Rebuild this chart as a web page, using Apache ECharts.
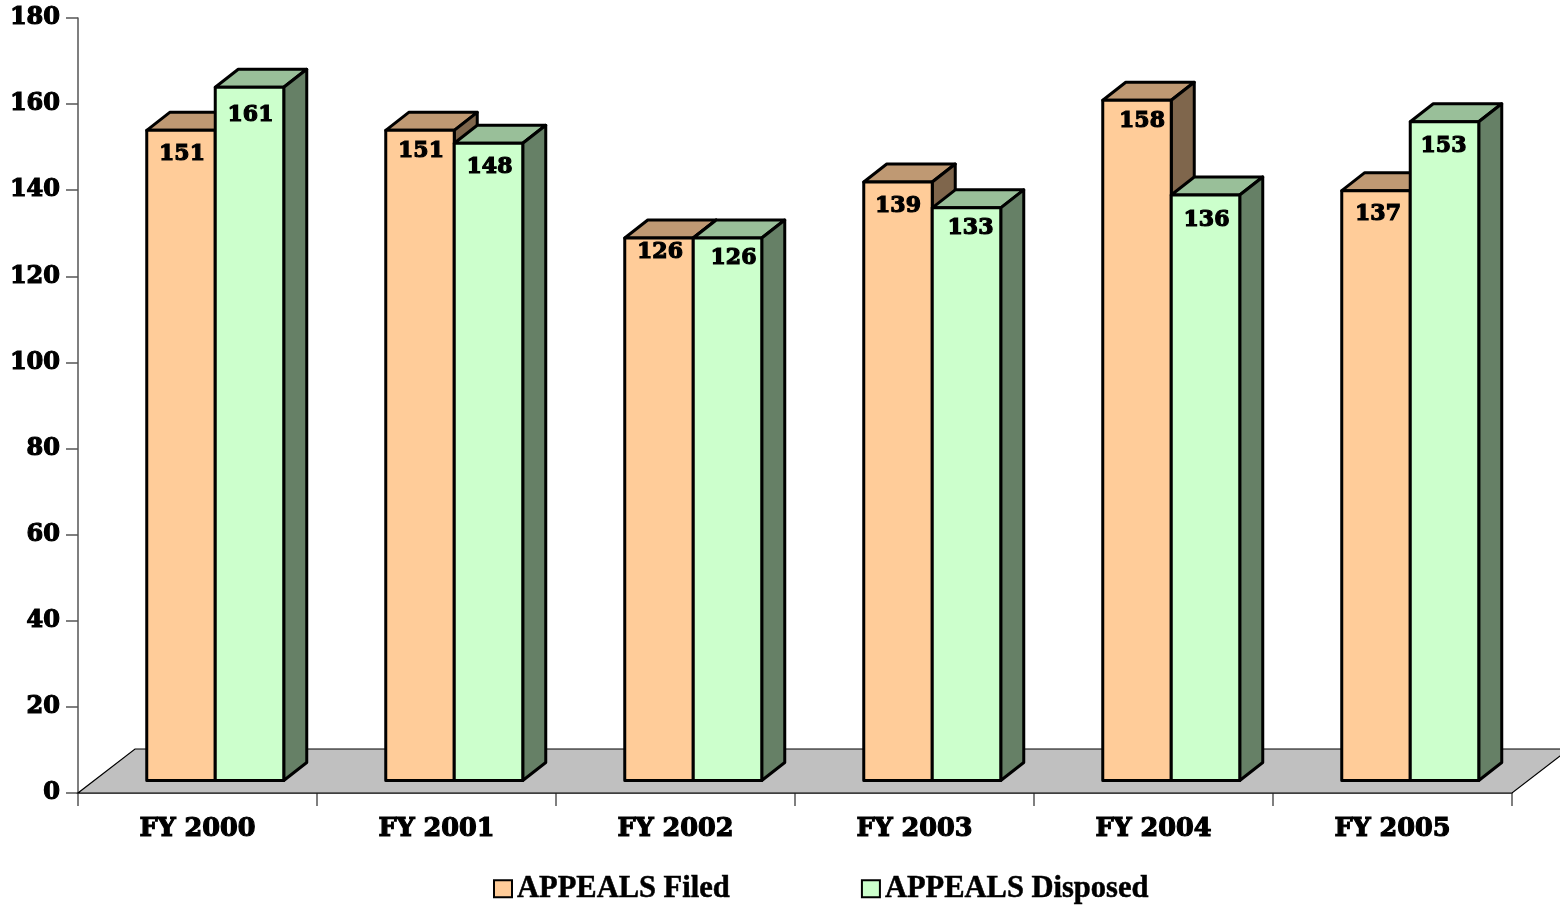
<!DOCTYPE html>
<html>
<head>
<meta charset="utf-8">
<style>html,body{margin:0;padding:0;background:#fff}#c{width:1560px;height:905px}</style>
<script src="https://cdn.jsdelivr.net/npm/echarts@6/dist/echarts.min.js"></script>
</head>
<body>
<div id="c"></div>
<script>
var categories = ['FY 2000','FY 2001','FY 2002','FY 2003','FY 2004','FY 2005'];
var filed = [151,151,126,139,158,137];
var disposed = [161,148,126,133,136,153];
var yTicks = {min:0,max:180,interval:20};

// Presentation only: hand placement of the value labels in the source chart [dx, dy]
var filedLabelNudge = [[1,24],[1,21],[1,14],[0,24],[5,21],[2,24]];
var disposedLabelNudge = [[1,28],[1,24],[6,20],[4,20],[1,25],[-1,25]];

var SERIF = '"DejaVu Serif"';
var LIFT = 12.5, DX = 23, DY = -18, BAR = 68.5, SHIFT = 17.75;

function barSeries(name, values, side, front, topCol, sideCol, nudge){
  return {
    name:name, type:'custom', coordinateSystem:'cartesian2d', z:3,
    itemStyle:{color:front,borderColor:'#000',borderWidth:2},
    encode:{x:0,y:1},
    data:categories.map(function(c,i){return [c,values[i]];}),
    renderItem:function(params,api){
      var idx=api.value(0), v=api.value(1);
      var c=api.coord([idx,v]), b=api.coord([idx,0]);
      var cx=c[0]+SHIFT;
      var x0=side<0?cx-BAR:cx, x1=x0+BAR, yt=c[1]-LIFT, yb=b[1]-LIFT;
      var st={stroke:'#000',lineWidth:3,lineJoin:'round'};
      var n=nudge[params.dataIndex];
      function poly(pts,fill){return {type:'polygon',shape:{points:pts},style:Object.assign({fill:fill},st)};}
      return {type:'group',children:[
        poly([[x0,yt],[x0+DX,yt+DY],[x1+DX,yt+DY],[x1,yt]],topCol),
        poly([[x1,yt],[x1+DX,yt+DY],[x1+DX,yb+DY],[x1,yb]],sideCol),
        poly([[x0,yt],[x1,yt],[x1,yb],[x0,yb]],front),
        {type:'text',z2:10,style:{
          x:(x0+x1)/2+n[0],y:yt+n[1],text:String(v),align:'center',verticalAlign:'middle',
          fill:'#000',stroke:'#000',lineWidth:1.2,font:'bold 22px '+SERIF}}
      ]};
    }
  };
}

var floorSeries = {
  name:'floor', type:'custom', coordinateSystem:'cartesian2d', z:1, silent:true,
  encode:{x:0,y:1}, data:[[categories[0],0]],
  renderItem:function(params,api){
    var s=params.coordSys, yb=s.y+s.height, xl=s.x, xr=s.x+s.width, dx=57, dy=-44;
    return {type:'polygon',shape:{points:[[xl,yb],[xr,yb],[xr+dx,yb+dy],[xl+dx,yb+dy]]},
      style:{fill:'#C0C0C0',stroke:'#000',lineWidth:1.2}};
  }
};

var axisLine={lineStyle:{color:'#555',width:1.5}};
var chart=echarts.init(document.getElementById('c'),null,{width:1560,height:905});
chart.setOption({
  animation:false,
  backgroundColor:'#fff',
  grid:{left:78,right:48,top:18,bottom:112,containLabel:false},
  legend:{
    show:true,selectedMode:false,left:493,top:873,orient:'horizontal',padding:0,
    itemWidth:18,itemHeight:17,itemGap:131,
    textStyle:{fontFamily:'"Liberation Serif"',fontWeight:'bold',fontSize:30.5,color:'#000',textBorderColor:'#000',textBorderWidth:0.5},
    data:[
      {name:'APPEALS Filed',icon:'rect',itemStyle:{color:'#FFCC99',borderColor:'#000',borderWidth:2}},
      {name:'APPEALS Disposed',icon:'rect',itemStyle:{color:'#CCFFCC',borderColor:'#000',borderWidth:2}}
    ]
  },
  xAxis:{type:'category',data:categories,boundaryGap:true,
    axisLine:axisLine,
    axisTick:{show:true,length:13,alignWithLabel:false,lineStyle:{color:'#555',width:1.5}},
    axisLabel:{color:'#000',fontFamily:SERIF,fontWeight:'bold',fontSize:25.5,margin:23,interval:0,textBorderColor:'#000',textBorderWidth:1.2},
    splitLine:{show:false}},
  yAxis:{type:'value',min:yTicks.min,max:yTicks.max,interval:yTicks.interval,
    axisLine:Object.assign({show:true},axisLine),
    axisTick:{show:true,length:12,lineStyle:{color:'#555',width:1.5}},
    axisLabel:{color:'#000',fontFamily:SERIF,fontWeight:'bold',fontSize:24,margin:18,padding:[6,0,0,0],textBorderColor:'#000',textBorderWidth:1.2},
    splitLine:{show:false}},
  series:[
    floorSeries,
    barSeries('APPEALS Filed',filed,-1,'#FFCC99','#BF9973','#7F664C',filedLabelNudge),
    barSeries('APPEALS Disposed',disposed,1,'#CCFFCC','#99BF99','#668066',disposedLabelNudge)
  ]
});
</script>
</body>
</html>
